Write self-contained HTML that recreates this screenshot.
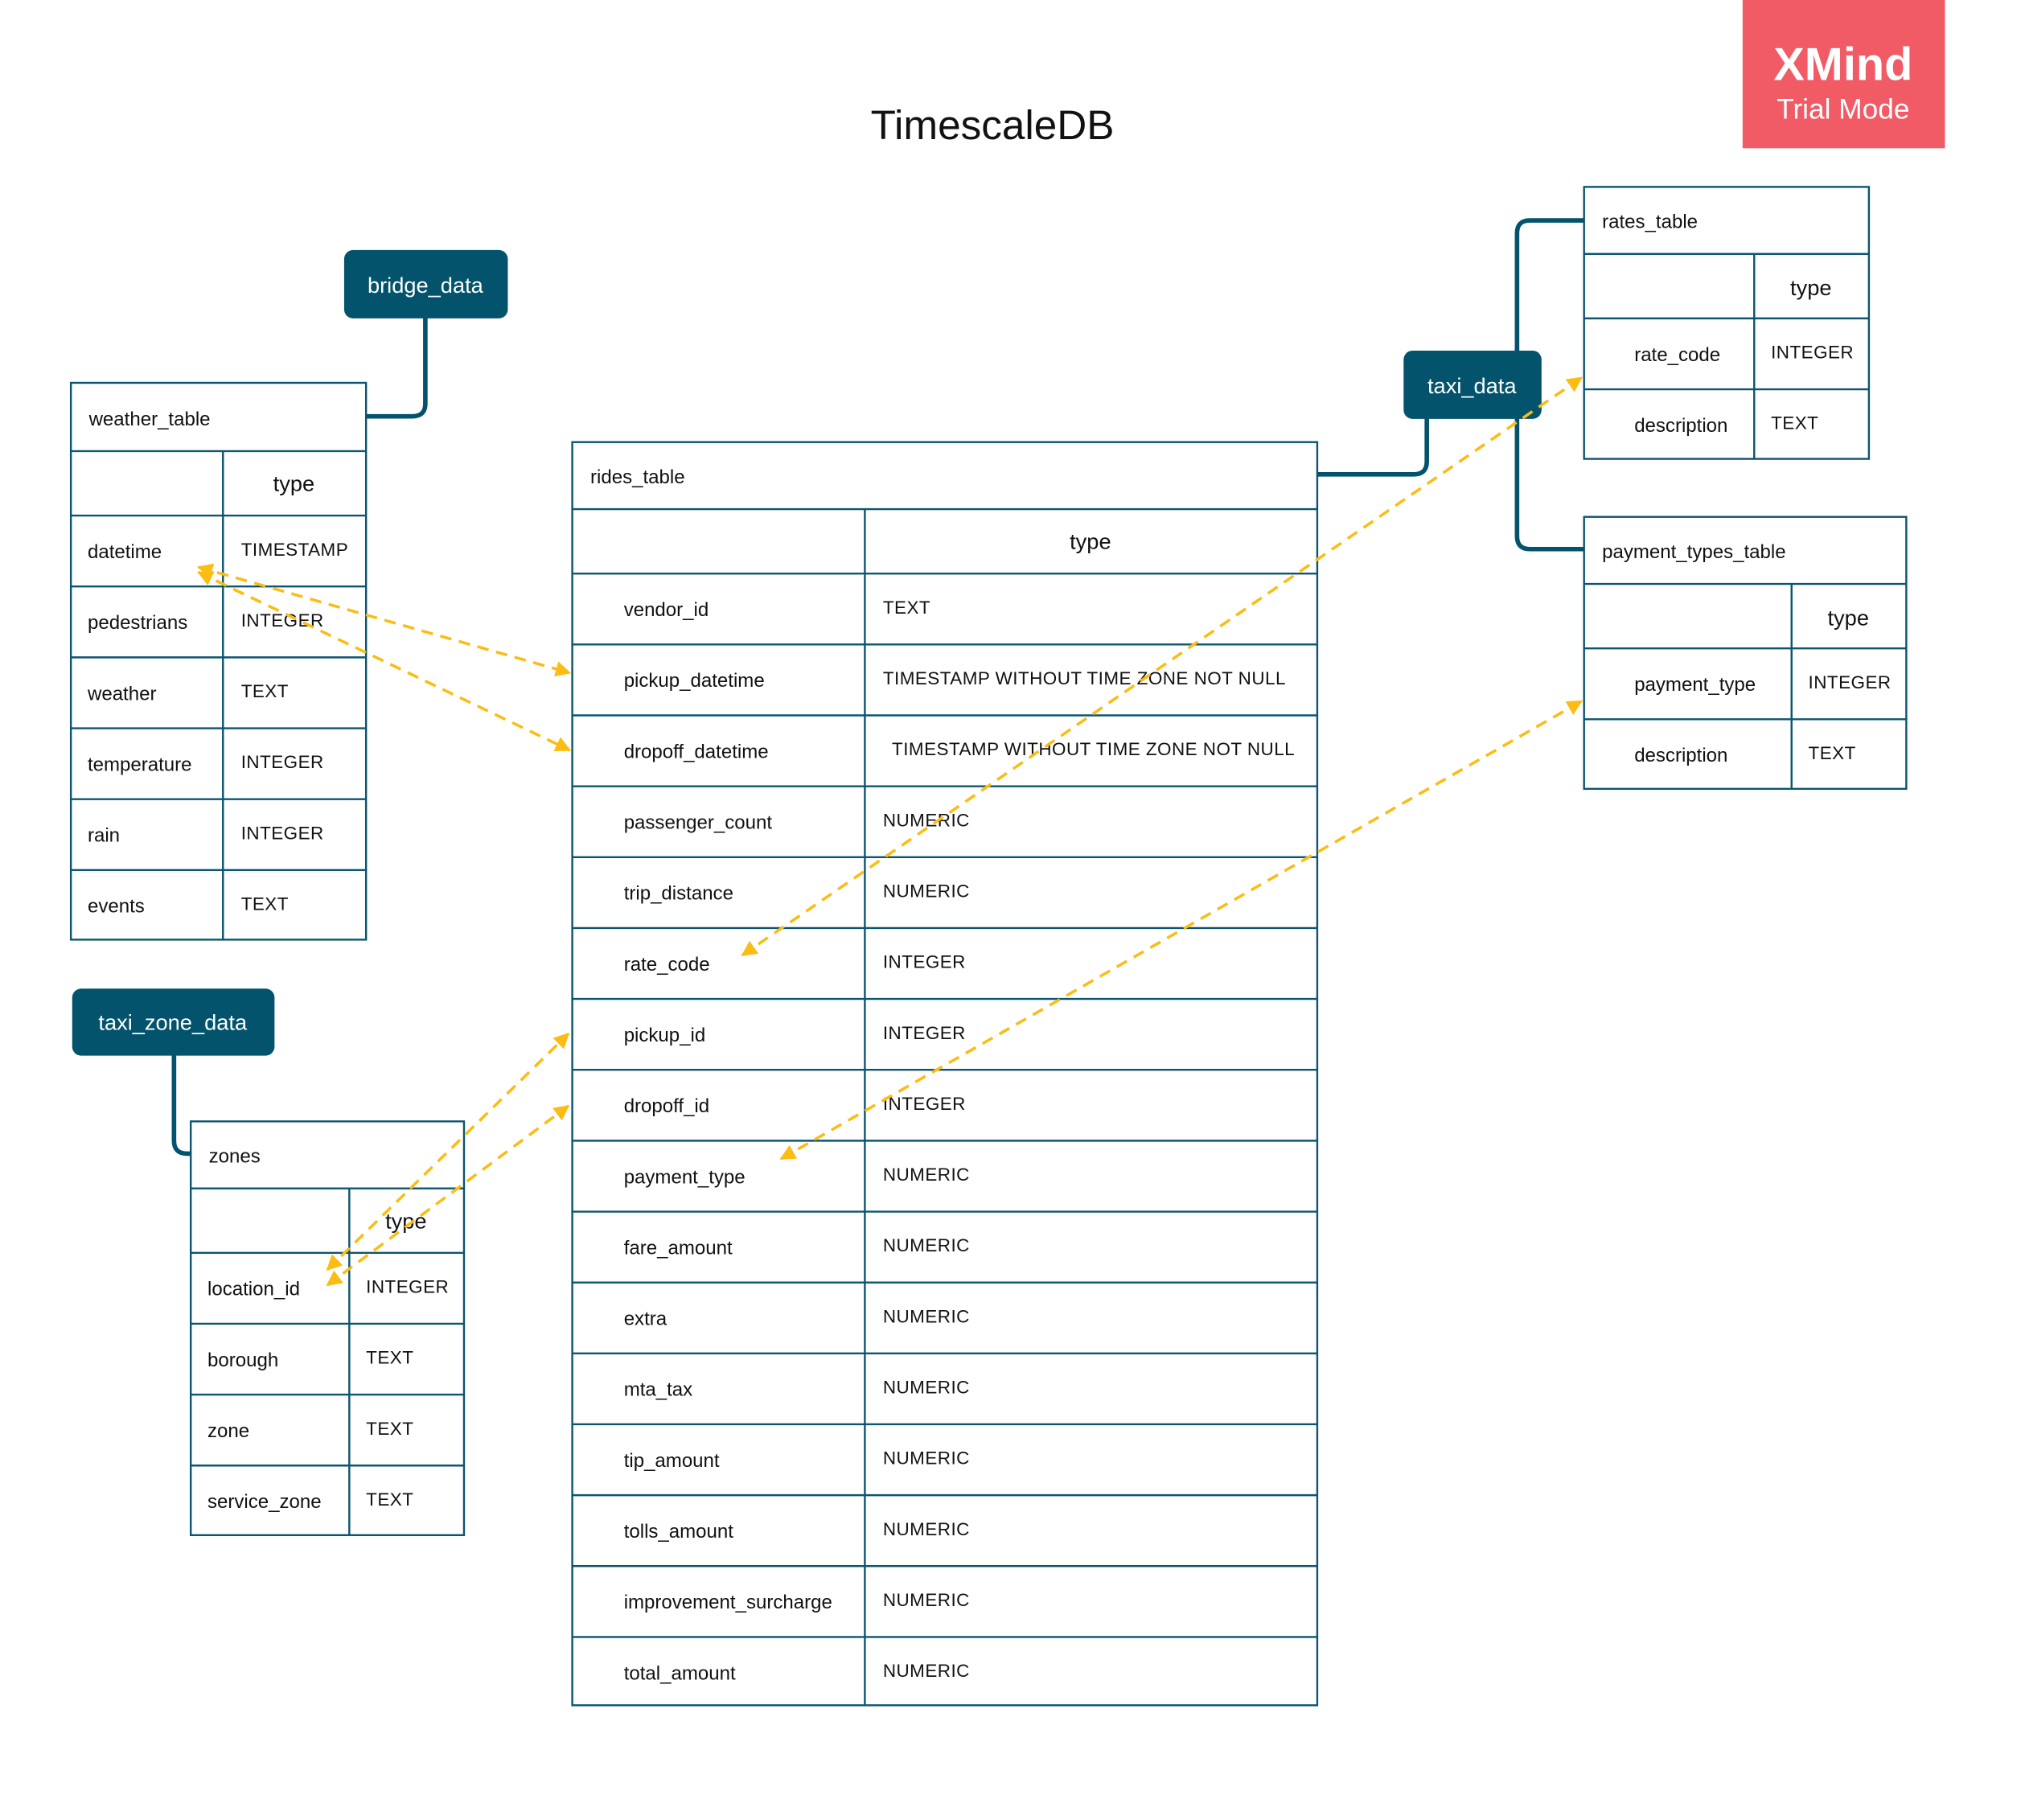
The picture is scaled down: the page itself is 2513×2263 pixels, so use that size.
<!DOCTYPE html>
<html><head><meta charset="utf-8"><style>
html,body{margin:0;padding:0;background:#fff}
svg{display:block}
text{font-family:"Liberation Sans",sans-serif;fill:#111}
.t{font-size:15px}
.ty{font-size:14px;letter-spacing:0.3px}
.h{font-size:17px;text-anchor:middle}
.n{font-size:17px;fill:#fff;text-anchor:middle}
.tb{fill:#fff;stroke:#0b5570;stroke-width:1.5}
.ln{stroke:#0b5570;stroke-width:1.5}
.cn{fill:none;stroke:#02536b;stroke-width:3.5;stroke-linecap:round}
.ar{fill:none;stroke:#fbbd14;stroke-width:2.2;stroke-dasharray:9 6}
</style></head><body>
<svg width="2513" height="2263" viewBox="0 0 1568 1412" xmlns="http://www.w3.org/2000/svg">
<defs>
<marker id="ah" viewBox="0 0 10 10" refX="9" refY="5" markerWidth="5.5" markerHeight="5.5" orient="auto-start-reverse" markerUnits="strokeWidth">
<path d="M0,0 L10,5 L0,10 z" fill="#fbbd14"/></marker>
</defs>

<rect x="1352" y="0" width="157" height="115" fill="#f05b66"/>
<text x="1430" y="62" style="font-size:36px;font-weight:bold;fill:#fff;text-anchor:middle">XMind</text>
<text x="1430" y="92" style="font-size:22px;fill:#fff;text-anchor:middle">Trial Mode</text>

<text x="770" y="108" style="font-size:32px;text-anchor:middle">TimescaleDB</text>

<path class="cn" d="M330,247 V313 Q330,323 320,323 H284"/>
<path class="cn" d="M1107,325 V358 Q1107,368 1097,368 H1022"/>
<path class="cn" d="M1177,272 V181 Q1177,171 1187,171 H1230"/>
<path class="cn" d="M1177,325 V416 Q1177,426 1187,426 H1230"/>
<path class="cn" d="M135,819 V885 Q135,895 145,895 H149"/>

<rect x="267" y="194" width="127" height="53" rx="7" fill="#02536b"/>
<text class="n" x="330" y="227">bridge_data</text>
<rect x="1089" y="272" width="107" height="53" rx="7" fill="#02536b"/>
<text class="n" x="1142" y="305">taxi_data</text>
<rect x="56" y="767" width="157" height="52" rx="7" fill="#02536b"/>
<text class="n" x="134" y="799">taxi_zone_data</text>

<rect class="tb" x="55" y="297" width="229" height="432"/>
<path class="ln" d="M55,350H284M55,400H284M55,455H284M55,510H284M55,565H284M55,620H284M55,675H284M173,350V729"/>
<text class="t" x="69" y="330">weather_table</text>
<text class="h" x="228" y="381">type</text>
<text class="t" x="68" y="433">datetime</text><text class="ty" x="187" y="431">TIMESTAMP</text>
<text class="t" x="68" y="488">pedestrians</text><text class="ty" x="187" y="486">INTEGER</text>
<text class="t" x="68" y="543">weather</text><text class="ty" x="187" y="541">TEXT</text>
<text class="t" x="68" y="598">temperature</text><text class="ty" x="187" y="596">INTEGER</text>
<text class="t" x="68" y="653">rain</text><text class="ty" x="187" y="651">INTEGER</text>
<text class="t" x="68" y="708">events</text><text class="ty" x="187" y="706">TEXT</text>

<rect class="tb" x="444" y="343" width="578" height="980"/>
<path class="ln" d="M444,395H1022M444,445H1022M444,500H1022M444,555H1022M444,610H1022M444,665H1022M444,720H1022M444,775H1022M444,830H1022M444,885H1022M444,940H1022M444,995H1022M444,1050H1022M444,1105H1022M444,1160H1022M444,1215H1022M444,1270H1022M671,395V1323"/>
<text class="t" x="458" y="375">rides_table</text>
<text class="h" x="846" y="426">type</text>
<text class="t" x="484" y="478">vendor_id</text><text class="ty" x="685" y="476">TEXT</text>
<text class="t" x="484" y="533">pickup_datetime</text><text class="ty" x="685" y="531">TIMESTAMP WITHOUT TIME ZONE NOT NULL</text>
<text class="t" x="484" y="588">dropoff_datetime</text><text class="ty" x="692" y="586">TIMESTAMP WITHOUT TIME ZONE NOT NULL</text>
<text class="t" x="484" y="643">passenger_count</text><text class="ty" x="685" y="641">NUMERIC</text>
<text class="t" x="484" y="698">trip_distance</text><text class="ty" x="685" y="696">NUMERIC</text>
<text class="t" x="484" y="753">rate_code</text><text class="ty" x="685" y="751">INTEGER</text>
<text class="t" x="484" y="808">pickup_id</text><text class="ty" x="685" y="806">INTEGER</text>
<text class="t" x="484" y="863">dropoff_id</text><text class="ty" x="685" y="861">INTEGER</text>
<text class="t" x="484" y="918">payment_type</text><text class="ty" x="685" y="916">NUMERIC</text>
<text class="t" x="484" y="973">fare_amount</text><text class="ty" x="685" y="971">NUMERIC</text>
<text class="t" x="484" y="1028">extra</text><text class="ty" x="685" y="1026">NUMERIC</text>
<text class="t" x="484" y="1083">mta_tax</text><text class="ty" x="685" y="1081">NUMERIC</text>
<text class="t" x="484" y="1138">tip_amount</text><text class="ty" x="685" y="1136">NUMERIC</text>
<text class="t" x="484" y="1193">tolls_amount</text><text class="ty" x="685" y="1191">NUMERIC</text>
<text class="t" x="484" y="1248">improvement_surcharge</text><text class="ty" x="685" y="1246">NUMERIC</text>
<text class="t" x="484" y="1303">total_amount</text><text class="ty" x="685" y="1301">NUMERIC</text>

<rect class="tb" x="1229" y="145" width="221" height="211"/>
<path class="ln" d="M1229,197H1450M1229,247H1450M1229,302H1450M1361,197V356"/>
<text class="t" x="1243" y="177">rates_table</text>
<text class="h" x="1405" y="229">type</text>
<text class="t" x="1268" y="280">rate_code</text><text class="ty" x="1374" y="278">INTEGER</text>
<text class="t" x="1268" y="335">description</text><text class="ty" x="1374" y="333">TEXT</text>

<rect class="tb" x="1229" y="401" width="250" height="211"/>
<path class="ln" d="M1229,453H1479M1229,503H1479M1229,558H1479M1390,453V612"/>
<text class="t" x="1243" y="433">payment_types_table</text>
<text class="h" x="1434" y="485">type</text>
<text class="t" x="1268" y="536">payment_type</text><text class="ty" x="1403" y="534">INTEGER</text>
<text class="t" x="1268" y="591">description</text><text class="ty" x="1403" y="589">TEXT</text>

<rect class="tb" x="148" y="870" width="212" height="321"/>
<path class="ln" d="M148,922H360M148,972H360M148,1027H360M148,1082H360M148,1137H360M271,922V1191"/>
<text class="t" x="162" y="902">zones</text>
<text class="h" x="315" y="953">type</text>
<text class="t" x="161" y="1005">location_id</text><text class="ty" x="284" y="1003">INTEGER</text>
<text class="t" x="161" y="1060">borough</text><text class="ty" x="284" y="1058">TEXT</text>
<text class="t" x="161" y="1115">zone</text><text class="ty" x="284" y="1113">TEXT</text>
<text class="t" x="161" y="1170">service_zone</text><text class="ty" x="284" y="1168">TEXT</text>

<path class="ar" d="M154,440 L442,522" marker-start="url(#ah)" marker-end="url(#ah)"/>
<path class="ar" d="M154,444 L442,582" marker-start="url(#ah)" marker-end="url(#ah)"/>
<path class="ar" d="M576,741 L1227,293" marker-start="url(#ah)" marker-end="url(#ah)"/>
<path class="ar" d="M606,899 L1227,544" marker-start="url(#ah)" marker-end="url(#ah)"/>
<path class="ar" d="M254,985 L441,802" marker-start="url(#ah)" marker-end="url(#ah)"/>
<path class="ar" d="M254,997 L441,858" marker-start="url(#ah)" marker-end="url(#ah)"/>
</svg>
</body></html>
